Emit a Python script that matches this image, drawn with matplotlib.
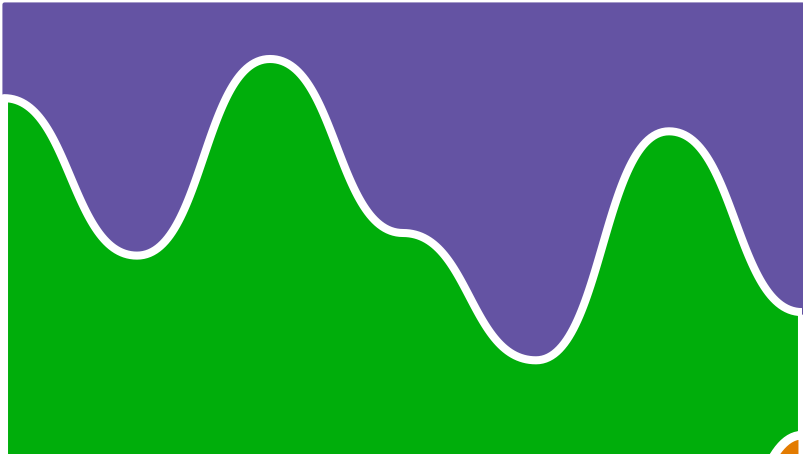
import numpy as np
import matplotlib
matplotlib.use("Agg")
import matplotlib.pyplot as plt

# stacked series (normalised to 100), bottom to top
points = [0, 1, 2, 3, 4, 5, 6]
orange_vals = [10.0, 7.0, 12.0, 8.0, 5.0, 6.0, 42.8]
green_vals = [77.5, 59.6, 80.7, 61.6, 47.7, 77.1, 16.3]
purple_vals = [12.5, 33.4, 7.3, 30.4, 47.3, 16.9, 40.9]

colors = ["#e37b00", "#00ae0b", "#6453a3"]


def bump(xs, ys, n=60):
    # cubic bezier with horizontal tangents at every point (like d3 curveBumpX)
    out_x, out_y = [], []
    for i in range(len(xs) - 1):
        x0, x1 = xs[i], xs[i + 1]
        y0, y1 = ys[i], ys[i + 1]
        t = np.linspace(0, 1, n, endpoint=(i == len(xs) - 2))
        xm = (x0 + x1) / 2
        bx = (1 - t) ** 3 * x0 + 3 * t * (1 - t) ** 2 * xm + 3 * t ** 2 * (1 - t) * xm + t ** 3 * x1
        by = (1 - t) ** 3 * y0 + 3 * t * (1 - t) ** 2 * y0 + 3 * t ** 2 * (1 - t) * y1 + t ** 3 * y1
        out_x.extend(bx)
        out_y.extend(by)
    return np.array(out_x), np.array(out_y)


def plot():
    fig = plt.figure(figsize=(8.04, 4.54), dpi=100)
    ax = fig.add_axes([2 / 804, 0, 800 / 804, 452 / 454])

    base = np.zeros(len(points))
    layers = []
    for vals in [orange_vals, green_vals, purple_vals]:
        top = base + np.array(vals)
        layers.append((base.copy(), top))
        base = top

    # purple on top, outline in its own colour
    x, lo = bump(points, layers[2][0])
    _, hi = bump(points, layers[2][1])
    ax.fill_between(x, lo, hi, facecolor=colors[2], edgecolor=colors[2], linewidth=3)

    # green then orange, white outlines
    for idx in [1, 0]:
        x, lo = bump(points, layers[idx][0])
        _, hi = bump(points, layers[idx][1])
        ax.fill_between(x, lo, hi, facecolor=colors[idx], edgecolor="white",
                        linewidth=5.8, joinstyle="round")

    ax.set_xlim(-2 / 133, 6)
    ax.set_ylim(100 - 450 / 7.533, 100 + 2 / 7.533)
    ax.axis("off")

    fig.savefig("out.png", dpi=100)
    plt.close(fig)


if __name__ == "__main__":
    plot()
